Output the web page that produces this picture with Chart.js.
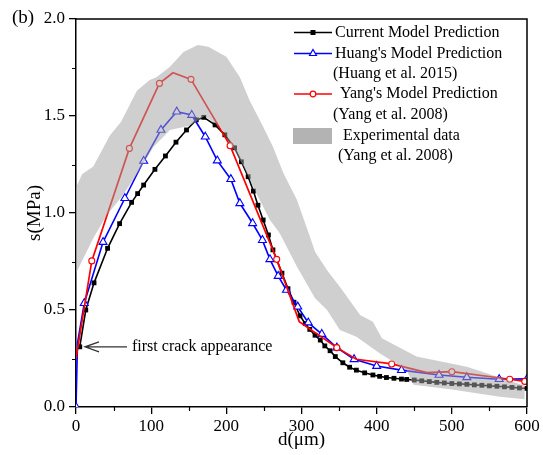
<!DOCTYPE html>
<html>
<head>
<meta charset="utf-8">
<script src="https://cdn.jsdelivr.net/npm/chart.js@4.4.1/dist/chart.umd.min.js"></script>
<style>
    html, body { margin: 0; padding: 0; background: #fff; }
    #wrap { width: 543px; height: 455px; position: relative; }
</style>
</head>
<body>
<div id="wrap"><canvas id="myChart"></canvas></div>
<script>
// values (d in um, s in MPa)
var currentD = [5, 13, 24, 42, 58, 74, 82, 90, 105, 119, 133, 147, 160, 170, 185, 198, 211, 220, 229, 236,
    242, 249, 256, 262, 267, 274, 282, 290, 298, 305, 311, 318, 325, 331, 338, 345, 355, 364, 373, 384,
    395, 404, 413, 423, 433, 440, 450, 460, 470, 480, 490, 500, 510, 520, 530, 540, 550, 560, 570, 580, 590, 600];
var currentS = [0.31, 0.50, 0.64, 0.818, 0.945, 1.055, 1.10, 1.144, 1.225, 1.294, 1.365, 1.428, 1.48, 1.493, 1.454, 1.403, 1.336, 1.264, 1.187, 1.113,
    1.04, 0.964, 0.887, 0.81, 0.76, 0.69, 0.61, 0.54, 0.47, 0.43, 0.40, 0.37, 0.345, 0.315, 0.29, 0.26, 0.228, 0.205, 0.19, 0.176,
    0.165, 0.158, 0.152, 0.148, 0.144, 0.142, 0.139, 0.135, 0.131, 0.127, 0.124, 0.121, 0.119, 0.117, 0.114, 0.112, 0.109, 0.107, 0.104, 0.101, 0.098, 0.096];

var huangD = [0, 2, 11, 36, 65, 90, 113, 134, 154, 172, 188, 206, 218, 235, 248, 258, 269, 280, 295, 309,
    327, 347, 370, 400, 433, 483, 520, 563, 600];
var huangS = [0, 0.33, 0.535, 0.85, 1.076, 1.268, 1.428, 1.522, 1.505, 1.393, 1.27, 1.174, 1.05, 0.947, 0.86, 0.761, 0.675, 0.603, 0.517, 0.435,
    0.376, 0.306, 0.246, 0.211, 0.19, 0.165, 0.153, 0.143, 0.145];

var yangD = [0, 21, 71, 111, 129, 153, 205, 267, 297, 347, 373, 420, 467, 500, 577, 597];
var yangS = [0.25, 0.753, 1.333, 1.668, 1.723, 1.689, 1.347, 0.761, 0.44, 0.306, 0.246, 0.222, 0.177, 0.182, 0.143, 0.132];

// experimental band, upper and lower edge
var expUpperD = [0, 8, 23, 45, 60, 81, 98, 107, 125, 143, 162, 176, 200, 218, 231, 249, 262, 276, 294, 311,
    318, 335, 351, 378, 395, 407, 453, 520, 597];
var expUpperS = [1.13, 1.20, 1.24, 1.40, 1.47, 1.63, 1.686, 1.70, 1.754, 1.83, 1.866, 1.857, 1.806, 1.70, 1.58, 1.445, 1.342, 1.205, 1.067, 0.88,
    0.80, 0.70, 0.62, 0.474, 0.44, 0.354, 0.26, 0.208, 0.11];
var expLowerD = [0, 23, 41, 60, 81, 103, 125, 151, 171, 192, 205, 223, 240, 258, 271, 294, 318, 334, 351, 373,
    404, 440, 449, 500, 564, 597];
var expLowerS = [0.69, 0.87, 0.99, 1.08, 1.20, 1.34, 1.428, 1.45, 1.50, 1.445, 1.36, 1.24, 1.10, 0.964, 0.895, 0.723, 0.56, 0.50, 0.397, 0.362,
    0.277, 0.19, 0.115, 0.09, 0.053, 0.04];

var minorXTicks = [50, 150, 250, 350, 450, 550];
var minorYTicks = [0.25, 0.75, 1.25, 1.75];

var FONT = 'Liberation Serif';

function pts(xs, ys) {
    return xs.map(function(x, i) { return {x: x, y: ys[i]}; });
}

// Yang's curve only has circles on some of its points
var yangRadius = [0, 3, 3, 3, 0, 3, 3, 3, 0, 3, 0, 3, 0, 3, 3, 3];
var huangRadius = huangD.map(function(d, i) { return i === 1 ? 0 : 4.6; });

var extras = {
    id: 'extras',
    afterDraw: function(chart) {
        var ctx = chart.ctx;
        var a = chart.chartArea;
        var xs = chart.scales.x, ys = chart.scales.y;
        ctx.save();

        // top and right side of the frame
        ctx.strokeStyle = '#000';
        ctx.lineWidth = 1.5;
        ctx.beginPath();
        ctx.moveTo(a.left, a.top);
        ctx.lineTo(a.right, a.top);
        ctx.lineTo(a.right, a.bottom);
        ctx.stroke();

        // minor ticks
        ctx.lineWidth = 1.2;
        ctx.beginPath();
        minorXTicks.forEach(function(v) {
            var px = Math.round(xs.getPixelForValue(v)) + 0.5;
            ctx.moveTo(px, a.bottom);
            ctx.lineTo(px, a.bottom + 4);
        });
        minorYTicks.forEach(function(v) {
            var py = Math.round(ys.getPixelForValue(v)) + 0.5;
            ctx.moveTo(a.left, py);
            ctx.lineTo(a.left - 4, py);
        });
        ctx.stroke();

        // panel letter
        ctx.fillStyle = '#000';
        ctx.font = '19px "' + FONT + '"';
        ctx.textBaseline = 'middle';
        ctx.textAlign = 'left';
        ctx.fillText('(b)', 12, 18);

        // arrow for the first crack
        var tx = xs.getPixelForValue(12), ty = ys.getPixelForValue(0.31);
        ctx.strokeStyle = '#333';
        ctx.lineWidth = 1.3;
        ctx.beginPath();
        ctx.moveTo(tx, ty);
        ctx.lineTo(tx + 42, ty);
        ctx.moveTo(tx + 14, ty - 5);
        ctx.lineTo(tx, ty);
        ctx.lineTo(tx + 14, ty + 5);
        ctx.stroke();
        ctx.font = '16px "' + FONT + '"';
        ctx.fillText('first crack appearance', tx + 47, ty);

        // legend
        var lx0 = a.right - 233, lx1 = a.right - 195, mx = (lx0 + lx1) / 2;
        var rows = [
            {y: 13.5, color: '#000', style: 'rect', r: 3.5, fill: '#000', text: 'Current Model Prediction', tx: 41},
            {y: 34.5, color: '#0000ff', style: 'triangle', r: 4, fill: '#fff', text: "Huang's Model Prediction", tx: 41},
            {y: 54.5, text: '(Huang et al. 2015)', tx: 39},
            {y: 75, color: '#ff0000', style: 'circle', r: 2.8, fill: '#fff', text: "Yang's Model Prediction", tx: 46},
            {y: 95.5, text: '(Yang et al. 2008)', tx: 39},
            {y: 117, box: true, text: 'Experimental data', tx: 49},
            {y: 136.5, text: '(Yang et al. 2008)', tx: 44}
        ];
        ctx.font = '16px "' + FONT + '"';
        rows.forEach(function(row) {
            var y = a.top + row.y;
            if (row.box) {
                ctx.fillStyle = '#b3b3b3';
                ctx.fillRect(lx0 - 1, y - 8, lx1 - lx0 + 1, 16);
            } else if (row.color) {
                ctx.strokeStyle = row.color;
                ctx.lineWidth = 1.6;
                ctx.beginPath();
                ctx.moveTo(lx0, y);
                ctx.lineTo(lx1, y);
                ctx.stroke();
                ctx.lineWidth = 1.2;
                ctx.fillStyle = row.fill;
                ctx.beginPath();
                if (row.style === 'rect') {
                    ctx.fillStyle = row.color;
                    ctx.fillRect(mx - 2.5, y - 2.5, 5, 5);
                } else if (row.style === 'circle') {
                    ctx.arc(mx, y, row.r, 0, Math.PI * 2);
                    ctx.fill();
                    ctx.stroke();
                } else {
                    ctx.moveTo(mx, y - row.r);
                    ctx.lineTo(mx + row.r * 0.87, y + row.r * 0.5);
                    ctx.lineTo(mx - row.r * 0.87, y + row.r * 0.5);
                    ctx.closePath();
                    ctx.fill();
                    ctx.stroke();
                }
            }
            ctx.fillStyle = '#000';
            ctx.fillText(row.text, lx0 + row.tx, y);
        });

        ctx.restore();
    }
};

document.addEventListener('DOMContentLoaded', function() {
    var ctx = document.getElementById('myChart').getContext('2d');
    Chart.defaults.font.family = FONT;

    var myChart = new Chart(ctx, {
        type: 'line',
        data: {
            datasets: [{
                label: 'Experimental data',
                data: pts(expUpperD, expUpperS),
                borderWidth: 0,
                pointRadius: 0,
                backgroundColor: 'rgba(163, 163, 163, 0.52)',
                fill: '+1',
                order: -1
            }, {
                label: 'Experimental lower',
                data: pts(expLowerD, expLowerS),
                borderWidth: 0,
                pointRadius: 0,
                fill: false,
                order: -1
            }, {
                label: "Yang's Model Prediction",
                data: pts(yangD, yangS),
                borderColor: '#ff0000',
                borderWidth: 1.7,
                pointStyle: 'circle',
                pointRadius: yangRadius,
                pointBorderWidth: 1.1,
                pointBackgroundColor: '#fff',
                pointBorderColor: '#ff0000',
                fill: false,
                order: 1
            }, {
                label: "Huang's Model Prediction",
                data: pts(huangD, huangS),
                borderColor: '#0000ff',
                borderWidth: 1.6,
                pointStyle: 'triangle',
                pointRadius: huangRadius,
                pointBorderWidth: 1.1,
                pointBackgroundColor: '#fff',
                pointBorderColor: '#0000ff',
                fill: false,
                order: 2
            }, {
                label: 'Current Model Prediction',
                data: pts(currentD, currentS),
                borderColor: '#000',
                borderWidth: 1.6,
                pointStyle: 'rect',
                pointRadius: 3.4,
                pointBorderWidth: 0,
                pointBackgroundColor: '#000',
                fill: false,
                order: 3
            }]
        },
        options: {
            responsive: true,
            maintainAspectRatio: false,
            animation: false,
            events: [],
            layout: {
                padding: { top: 19, right: 16, left: 0, bottom: 0 }
            },
            plugins: {
                legend: { display: false },
                tooltip: { enabled: false }
            },
            scales: {
                x: {
                    type: 'linear',
                    min: 0,
                    max: 600,
                    afterFit: function(s) { s.height = 48; },
                    ticks: {
                        stepSize: 100,
                        color: '#000',
                        font: { family: FONT, size: 17 },
                        padding: 2,
                        maxRotation: 0
                    },
                    grid: { drawOnChartArea: false, color: '#000', tickLength: 7, lineWidth: 1.3 },
                    border: { color: '#000', width: 1.5 },
                    title: {
                        display: true,
                        text: 'd(μm)',
                        color: '#000',
                        font: { family: FONT, size: 19 },
                        padding: { top: 0, bottom: 4 }
                    }
                },
                y: {
                    min: 0,
                    max: 2,
                    afterFit: function(s) { s.width = 76; },
                    ticks: {
                        stepSize: 0.5,
                        color: '#000',
                        font: { family: FONT, size: 17 },
                        padding: 4,
                        callback: function(v) { return v.toFixed(1); }
                    },
                    grid: { drawOnChartArea: false, color: '#000', tickLength: 7, lineWidth: 1.3 },
                    border: { color: '#000', width: 1.5 },
                    title: {
                        display: true,
                        text: 's(MPa)',
                        color: '#000',
                        font: { family: FONT, size: 19 },
                        padding: { top: 24, bottom: 0 }
                    }
                }
            }
        },
        plugins: [extras]
    });
});
</script>
</body>
</html>
